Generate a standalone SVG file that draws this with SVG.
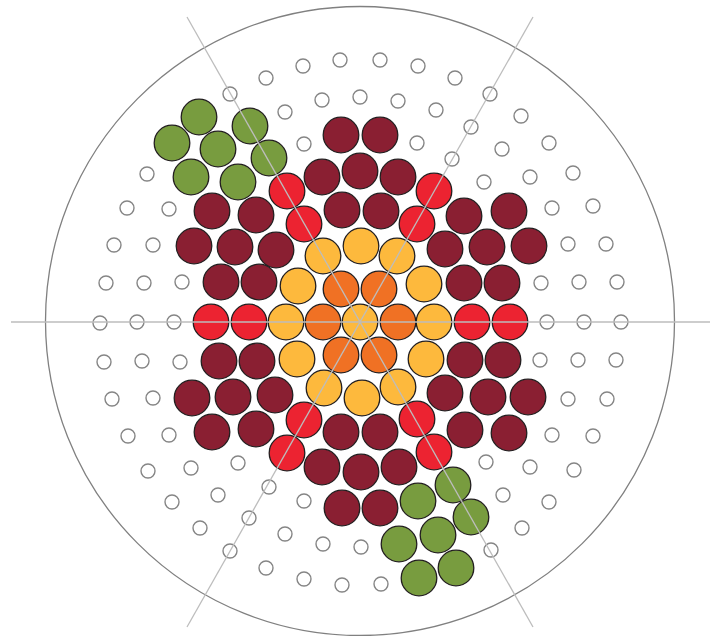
<svg xmlns="http://www.w3.org/2000/svg" width="722" height="636" viewBox="0 0 722 636">
<style>
.f{stroke:#231F20;stroke-width:1.3}
.dr{fill:#8A1F32}
.rd{fill:#EC2331}
.or{fill:#F07124}
.ye{fill:#FDB93D}
.gr{fill:#789C3F}
.e{fill:#fff;stroke:#858585;stroke-width:1.4}
.ax{stroke:#BDBDBD;stroke-width:1.3;fill:none}
</style>
<rect width="722" height="636" fill="#fff"/>
<circle id="vessel" cx="360" cy="321" r="314.5" fill="none" stroke="#808080" stroke-width="1.3"/>
<g id="empty-positions">
<circle class="e" r="7" cx="266" cy="78"/><circle class="e" r="7" cx="303" cy="66"/><circle class="e" r="7" cx="340" cy="60"/><circle class="e" r="7" cx="380" cy="60"/><circle class="e" r="7" cx="418" cy="66"/><circle class="e" r="7" cx="455" cy="78"/>
<circle class="e" r="7" cx="230" cy="94"/><circle class="e" r="7" cx="490" cy="94"/>
<circle class="e" r="7" cx="285" cy="112"/><circle class="e" r="7" cx="322" cy="100"/><circle class="e" r="7" cx="360" cy="97"/><circle class="e" r="7" cx="398" cy="101"/><circle class="e" r="7" cx="436" cy="110"/>
<circle class="e" r="7" cx="521" cy="116"/><circle class="e" r="7" cx="471" cy="127"/>
<circle class="e" r="7" cx="304" cy="144"/><circle class="e" r="7" cx="417" cy="143"/><circle class="e" r="7" cx="452" cy="159"/><circle class="e" r="7" cx="502" cy="149"/><circle class="e" r="7" cx="549" cy="143"/>
<circle class="e" r="7" cx="147" cy="174"/><circle class="e" r="7" cx="484" cy="182"/><circle class="e" r="7" cx="530" cy="177"/><circle class="e" r="7" cx="573" cy="173"/>
<circle class="e" r="7" cx="127" cy="208"/><circle class="e" r="7" cx="169" cy="209"/><circle class="e" r="7" cx="552" cy="208"/><circle class="e" r="7" cx="593" cy="206"/>
<circle class="e" r="7" cx="114" cy="245"/><circle class="e" r="7" cx="153" cy="245"/><circle class="e" r="7" cx="568" cy="244"/><circle class="e" r="7" cx="606" cy="244"/>
<circle class="e" r="7" cx="106" cy="283"/><circle class="e" r="7" cx="144" cy="283"/><circle class="e" r="7" cx="182" cy="282"/><circle class="e" r="7" cx="541" cy="283"/><circle class="e" r="7" cx="579" cy="282"/><circle class="e" r="7" cx="617" cy="282"/>
<circle class="e" r="7" cx="100" cy="323"/><circle class="e" r="7" cx="137" cy="322"/><circle class="e" r="7" cx="174" cy="322"/><circle class="e" r="7" cx="547" cy="322"/><circle class="e" r="7" cx="584" cy="322"/><circle class="e" r="7" cx="621" cy="322"/>
<circle class="e" r="7" cx="104" cy="362"/><circle class="e" r="7" cx="142" cy="361"/><circle class="e" r="7" cx="180" cy="362"/><circle class="e" r="7" cx="540" cy="360"/><circle class="e" r="7" cx="578" cy="360"/><circle class="e" r="7" cx="616" cy="360"/>
<circle class="e" r="7" cx="112" cy="399"/><circle class="e" r="7" cx="153" cy="398"/><circle class="e" r="7" cx="568" cy="399"/><circle class="e" r="7" cx="607" cy="399"/>
<circle class="e" r="7" cx="128" cy="436"/><circle class="e" r="7" cx="169" cy="435"/><circle class="e" r="7" cx="552" cy="435"/><circle class="e" r="7" cx="593" cy="436"/>
<circle class="e" r="7" cx="148" cy="471"/><circle class="e" r="7" cx="191" cy="468"/><circle class="e" r="7" cx="238" cy="463"/><circle class="e" r="7" cx="486" cy="462"/><circle class="e" r="7" cx="530" cy="467"/><circle class="e" r="7" cx="574" cy="470"/>
<circle class="e" r="7" cx="172" cy="502"/><circle class="e" r="7" cx="218" cy="495"/><circle class="e" r="7" cx="269" cy="487"/><circle class="e" r="7" cx="503" cy="495"/><circle class="e" r="7" cx="549" cy="502"/>
<circle class="e" r="7" cx="200" cy="528"/><circle class="e" r="7" cx="249" cy="518"/><circle class="e" r="7" cx="304" cy="501"/><circle class="e" r="7" cx="522" cy="528"/>
<circle class="e" r="7" cx="230" cy="551"/><circle class="e" r="7" cx="285" cy="534"/><circle class="e" r="7" cx="323" cy="544"/><circle class="e" r="7" cx="361" cy="547"/><circle class="e" r="7" cx="491" cy="550"/>
<circle class="e" r="7" cx="266" cy="568"/><circle class="e" r="7" cx="304" cy="579"/><circle class="e" r="7" cx="342" cy="585"/><circle class="e" r="7" cx="381" cy="584"/>
</g>
<g id="green-top-left">
<circle class="f gr" r="17.8" cx="199" cy="117"/><circle class="f gr" r="17.8" cx="250" cy="126"/><circle class="f gr" r="17.8" cx="172" cy="143"/><circle class="f gr" r="17.8" cx="218" cy="149"/><circle class="f gr" r="17.8" cx="269" cy="158"/><circle class="f gr" r="17.8" cx="191" cy="177"/><circle class="f gr" r="17.8" cx="238" cy="182"/>
</g>
<g id="green-bottom-right">
<circle class="f gr" r="17.8" cx="453" cy="485"/><circle class="f gr" r="17.8" cx="418" cy="501"/><circle class="f gr" r="17.8" cx="471" cy="517"/><circle class="f gr" r="17.8" cx="438" cy="535"/><circle class="f gr" r="17.8" cx="399" cy="544"/><circle class="f gr" r="17.8" cx="456" cy="568"/><circle class="f gr" r="17.8" cx="419" cy="578"/>
</g>
<g id="dark-red">
<circle class="f dr" r="17.8" cx="341" cy="135"/><circle class="f dr" r="17.8" cx="380" cy="135"/>
<circle class="f dr" r="17.8" cx="322" cy="177"/><circle class="f dr" r="17.8" cx="360" cy="171"/><circle class="f dr" r="17.8" cx="398" cy="177"/>
<circle class="f dr" r="17.8" cx="342" cy="210"/><circle class="f dr" r="17.8" cx="381" cy="211"/>
<circle class="f dr" r="17.8" cx="212" cy="211"/><circle class="f dr" r="17.8" cx="256" cy="215"/><circle class="f dr" r="17.8" cx="464" cy="216"/><circle class="f dr" r="17.8" cx="509" cy="211"/>
<circle class="f dr" r="17.8" cx="194" cy="246"/><circle class="f dr" r="17.8" cx="235" cy="247"/><circle class="f dr" r="17.8" cx="276" cy="250"/><circle class="f dr" r="17.8" cx="445" cy="249"/><circle class="f dr" r="17.8" cx="487" cy="247"/><circle class="f dr" r="17.8" cx="529" cy="246"/>
<circle class="f dr" r="17.8" cx="221" cy="282"/><circle class="f dr" r="17.8" cx="259" cy="282"/><circle class="f dr" r="17.8" cx="464" cy="283"/><circle class="f dr" r="17.8" cx="502" cy="283"/>
<circle class="f dr" r="17.8" cx="219" cy="361"/><circle class="f dr" r="17.8" cx="257" cy="361"/><circle class="f dr" r="17.8" cx="465" cy="360"/><circle class="f dr" r="17.8" cx="503" cy="360"/>
<circle class="f dr" r="17.8" cx="192" cy="398"/><circle class="f dr" r="17.8" cx="233" cy="397"/><circle class="f dr" r="17.8" cx="275" cy="395"/><circle class="f dr" r="17.8" cx="445" cy="393"/><circle class="f dr" r="17.8" cx="488" cy="397"/><circle class="f dr" r="17.8" cx="528" cy="397"/>
<circle class="f dr" r="17.8" cx="212" cy="432"/><circle class="f dr" r="17.8" cx="256" cy="429"/><circle class="f dr" r="17.8" cx="465" cy="430"/><circle class="f dr" r="17.8" cx="509" cy="433"/>
<circle class="f dr" r="17.8" cx="341" cy="432"/><circle class="f dr" r="17.8" cx="380" cy="432"/>
<circle class="f dr" r="17.8" cx="322" cy="467"/><circle class="f dr" r="17.8" cx="361" cy="472"/><circle class="f dr" r="17.8" cx="399" cy="467"/>
<circle class="f dr" r="17.8" cx="342" cy="508"/><circle class="f dr" r="17.8" cx="380" cy="508"/>
</g>
<g id="red">
<circle class="f rd" r="17.8" cx="287" cy="191"/><circle class="f rd" r="17.8" cx="434" cy="191"/>
<circle class="f rd" r="17.8" cx="304" cy="224"/><circle class="f rd" r="17.8" cx="417" cy="224"/>
<circle class="f rd" r="17.8" cx="211" cy="322"/><circle class="f rd" r="17.8" cx="249" cy="322"/><circle class="f rd" r="17.8" cx="472" cy="322"/><circle class="f rd" r="17.8" cx="510" cy="322"/>
<circle class="f rd" r="17.8" cx="304" cy="420"/><circle class="f rd" r="17.8" cx="417" cy="419"/>
<circle class="f rd" r="17.8" cx="287" cy="453"/><circle class="f rd" r="17.8" cx="434" cy="452"/>
</g>
<g id="yellow">
<circle class="f ye" r="17.8" cx="323" cy="256"/><circle class="f ye" r="17.8" cx="361" cy="246"/><circle class="f ye" r="17.8" cx="397" cy="256"/>
<circle class="f ye" r="17.8" cx="298" cy="286"/><circle class="f ye" r="17.8" cx="424" cy="284"/>
<circle class="f ye" r="17.8" cx="286" cy="322"/><circle class="f ye" r="17.8" cx="360" cy="322"/><circle class="f ye" r="17.8" cx="434" cy="322"/>
<circle class="f ye" r="17.8" cx="297" cy="359"/><circle class="f ye" r="17.8" cx="426" cy="359"/>
<circle class="f ye" r="17.8" cx="324" cy="388"/><circle class="f ye" r="17.8" cx="362" cy="398"/><circle class="f ye" r="17.8" cx="398" cy="387"/>
</g>
<g id="orange">
<circle class="f or" r="17.8" cx="341" cy="289"/><circle class="f or" r="17.8" cx="379" cy="289"/>
<circle class="f or" r="17.8" cx="323" cy="322"/><circle class="f or" r="17.8" cx="398" cy="322"/>
<circle class="f or" r="17.8" cx="341" cy="355"/><circle class="f or" r="17.8" cx="379" cy="355"/>
</g>
<g id="axes">
<line class="ax" x1="11" y1="322" x2="710" y2="322"/>
<line class="ax" x1="187" y1="17" x2="533" y2="627"/>
<line class="ax" x1="533" y1="17" x2="187" y2="627"/>
</g>
</svg>
